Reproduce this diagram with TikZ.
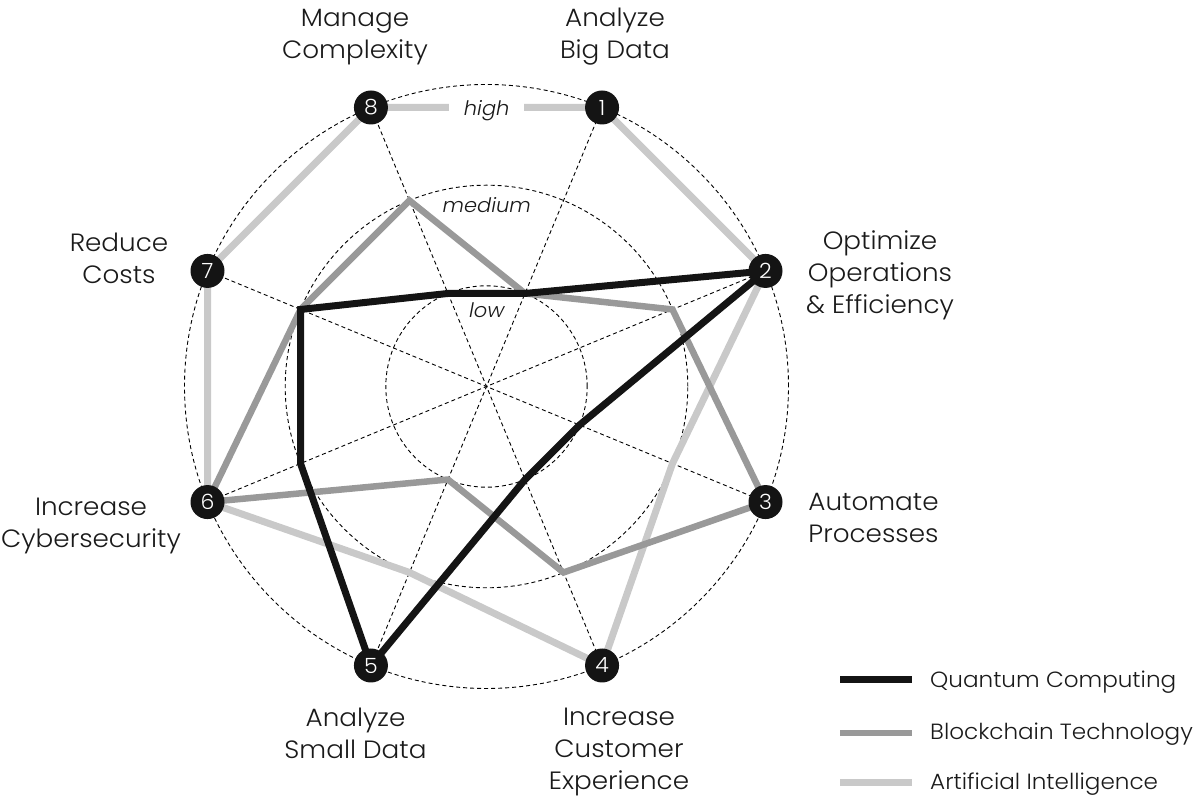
\documentclass[tikz,border=0pt]{standalone}
\usepackage{fontspec}
\setmainfont{Poppins}[UprightFont=* Light,ItalicFont=* Light Italic,BoldFont=* Medium,FakeStretch=1.05]
\usetikzlibrary{calc}
\definecolor{qc}{HTML}{141414}
\definecolor{bt}{HTML}{999999}
\definecolor{ai}{HTML}{C9C9C9}
\definecolor{ink}{HTML}{1A1A1A}
\pgfdeclarelayer{bg}
\pgfsetlayers{bg,main}
\newcommand\radpt[3]{\coordinate (#1) at ($(C)+(#2:#3)$);}
\begin{document}
\begin{tikzpicture}[x=1pt,y=1pt,
  axisnode/.style={circle,fill=qc,minimum size=34pt,inner sep=0pt,text=white,font=\fontsize{21}{21}\selectfont},
  gridline/.style={dash pattern=on 4pt off 3pt,line width=0.9pt,black},
  qcline/.style={draw=qc,line width=7pt},
  btline/.style={draw=bt,line width=6.5pt},
  ailine/.style={draw=ai,line width=7pt},
  lab/.style={align=center,anchor=base,text=ink,font=\fontsize{25}{32}\selectfont},
  lvl/.style={text=ink,font=\fontsize{20}{20}\itshape\selectfont,inner sep=2pt},
  legtext/.style={anchor=base west,text=ink,font=\fontsize{22}{22}\selectfont,inner sep=0pt}
]
\useasboundingbox (0,0) rectangle (1200,800);
\coordinate (C) at (486.5,413.5);
\def\rL{100.7}
\def\rM{201.3}
\def\rH{302}
% axis ends and nodes
\node[axisnode] (n1) at ($(C)+(67.5:\rH)$) {1};
\node[axisnode] (n2) at ($(C)+(22.5:\rH)$) {2};
\node[axisnode] (n3) at ($(C)+(-22.5:\rH)$) {3};
\node[axisnode] (n4) at ($(C)+(-67.5:\rH)$) {4};
\node[axisnode] (n5) at ($(C)+(-112.5:\rH)$) {5};
\node[axisnode] (n6) at ($(C)+(-157.5:\rH)$) {6};
\node[axisnode] (n7) at ($(C)+(157.5:\rH)$) {7};
\node[axisnode] (n8) at ($(C)+(112.5:\rH)$) {8};
% data points
\radpt{q1}{67.5}{\rL}
\radpt{q3}{-22.5}{\rL}
\radpt{q4}{-67.5}{\rL}
\radpt{q6}{-157.5}{\rM}
\radpt{q7}{157.5}{\rM}
\radpt{q8}{112.5}{\rL}
\radpt{b1}{67.5}{\rL}
\radpt{b2}{22.5}{\rM}
\radpt{b4}{-67.5}{\rM}
\radpt{b5}{-112.5}{\rL}
\radpt{b7}{157.5}{\rM}
\radpt{b8}{112.5}{\rM}
\radpt{a3}{-22.5}{\rM}
\radpt{a5}{-112.5}{\rM}
\begin{pgfonlayer}{bg}
  \draw[gridline] (C) circle[radius=\rL pt];
  \draw[gridline] (C) circle[radius=\rM pt];
  \draw[gridline] (C) circle[radius=\rH pt];
  \draw[gridline] (n1.center) -- (n5.center);
  \draw[gridline] (n2.center) -- (n6.center);
  \draw[gridline] (n3.center) -- (n7.center);
  \draw[gridline] (n4.center) -- (n8.center);
  % Artificial Intelligence
  \draw[ailine] (n1.center) -- (n2.center) -- (a3) -- (n4.center) -- (a5) -- (n6.center) -- (n7.center) -- (n8.center) -- cycle;
  % Blockchain Technology
  \draw[btline] (b1) -- (b2) -- (n3.center) -- (b4) -- (b5) -- (n6.center) -- (b7) -- (b8) -- cycle;
  % Quantum Computing
  \draw[qcline] (q1) -- (n2.center) -- (q3) -- (q4) -- (n5.center) -- (q6) -- (q7) -- (q8) -- cycle;
  \node[lvl,fill=white,inner xsep=15pt] (high) at (486.7,689.3) {high};
  \node[lvl] (medium) at (486.7,595) {medium};
  \node[lvl] (low) at (486.7,490) {low};
\end{pgfonlayer}
% axis labels
\node[lab] (t8) at (355,741.7) {Manage\\Complexity};
\node[lab] (t1) at (615,741.7) {Analyze\\Big Data};
\node[lab] (t2) at (880,486.7) {Optimize\\Operations\\\& Efficiency};
\node[lab] (t3) at (873.5,257.3) {Automate\\Processes};
\node[lab] (t4) at (619,10) {Increase\\Customer\\Experience};
\node[lab] (t5) at (355.5,41.7) {Analyze\\Small Data};
\node[lab] (t6) at (91,252) {Increase\\Cybersecurity};
\node[lab] (t7) at (119,516) {Reduce\\Costs};
% legend
\coordinate (l1a) at (840,120); \coordinate (l1b) at (912,120);
\coordinate (l2a) at (840,67); \coordinate (l2b) at (912,67);
\coordinate (l3a) at (840,17); \coordinate (l3b) at (912,17);
\draw[qcline] (l1a) -- (l1b);
\draw[btline] (l2a) -- (l2b);
\draw[ailine] (l3a) -- (l3b);
\node[legtext] (lg1) at (930,112) {Quantum Computing};
\node[legtext] (lg2) at (930,60) {Blockchain Technology};
\node[legtext] (lg3) at (930,10) {Artificial Intelligence};
\end{tikzpicture}
\end{document}
